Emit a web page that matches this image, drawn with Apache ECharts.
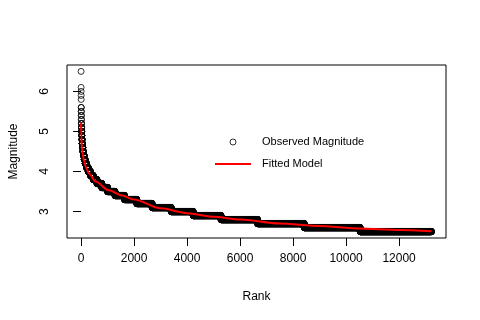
<!DOCTYPE html>
<html>
<head>
<meta charset="utf-8">
<script src="https://cdn.jsdelivr.net/npm/echarts@6/dist/echarts.min.js"></script>
<style>
  html, body { margin: 0; padding: 0; background: #fff; }
  #chart { width: 480px; height: 320px; }
</style>
</head>
<body>
<div id="chart"></div>
<script>
// magnitude levels (descending) and the last rank that has that magnitude
const magnitudeLevels = [6.5, 6.1, 6.0, 5.9, 5.8, 5.6, 5.5, 5.4, 5.3, 5.2, 5.1, 5.0, 4.9, 4.8, 4.7, 4.6, 4.5, 4.4, 4.3, 4.2, 4.1, 4.0, 3.9, 3.8, 3.7, 3.6, 3.5, 3.4, 3.3, 3.2, 3.1, 3.0, 2.9, 2.8, 2.7, 2.6, 2.5];
const lastRankAtLevel = [1, 2, 3, 4, 5, 7, 9, 11, 13, 16, 20, 25, 31, 40, 52, 68, 90, 118, 155, 205, 270, 355, 460, 600, 780, 1000, 1280, 1640, 2100, 2680, 3400, 4230, 5280, 6660, 8420, 10530, 13220];

// fitted model
const fitRanks = [1, 10, 30, 60, 100, 175, 300, 550, 1050, 1550, 2000, 3000, 4000, 5000, 6000, 7500, 9000, 10500, 12000, 13220];
const fitMagnitudes = [5.22, 4.85, 4.62, 4.45, 4.30, 4.12, 3.95, 3.75, 3.53, 3.40, 3.30, 3.08, 2.96, 2.87, 2.80, 2.70, 2.64, 2.58, 2.54, 2.51];

const xTicks = [0, 2000, 4000, 6000, 8000, 10000, 12000];
const yTicks = [3, 4, 5, 6];

const FONT = '"Liberation Sans", Arial, Helvetica, sans-serif';

function buildObserved() {
    const pts = [];
    let prev = 0;
    magnitudeLevels.forEach((m, i) => {
        for (let r = prev + 1; r <= lastRankAtLevel[i]; r++) pts.push([r, m]);
        prev = lastRankAtLevel[i];
    });
    return pts;
}

const chart = echarts.init(document.getElementById('chart'), null, { renderer: 'canvas' });

const option = {
    animation: false,
    textStyle: { fontFamily: FONT, color: '#000' },
    grid: {
        left: 66, right: 34, top: 65, bottom: 82,
        show: true, borderColor: '#000', borderWidth: 1, backgroundColor: 'transparent'
    },
    legend: {
        orient: 'vertical',
        left: 209, top: 130,
        itemWidth: 36, itemHeight: 6, itemGap: 8,
        selectedMode: false,
        textStyle: { fontFamily: FONT, fontSize: 11, color: '#000', lineHeight: 14, padding: [0, 0, 0, 6] },
        data: [
            { name: 'Observed Magnitude', icon: 'circle', itemStyle: { color: '#fff', borderColor: '#000', borderWidth: 1 } },
            { name: 'Fitted Model', itemStyle: { opacity: 0 }, lineStyle: { color: '#ff0000', width: 2 } }
        ]
    },
    xAxis: {
        type: 'value',
        min: -530, max: 13770,
        name: 'Rank', nameLocation: 'middle', nameGap: 53,
        nameTextStyle: { fontSize: 12, color: '#000', fontFamily: FONT },
        axisLine: { show: false },
        splitLine: { show: false },
        axisTick: { show: true, inside: false, length: 8, lineStyle: { color: '#000' }, customValues: xTicks },
        axisLabel: {
            fontSize: 12, color: '#000', margin: 15, fontFamily: FONT, customValues: xTicks,
            formatter: v => String(v)
        }
    },
    yAxis: {
        type: 'value',
        min: 2.34, max: 6.66,
        name: 'Magnitude', nameLocation: 'middle', nameGap: 47,
        nameTextStyle: { fontSize: 12, color: '#000', fontFamily: FONT },
        axisLine: { show: false },
        splitLine: { show: false },
        axisTick: { show: true, inside: false, length: 8, lineStyle: { color: '#000' }, customValues: yTicks },
        axisLabel: { fontSize: 12, color: '#000', margin: 16, rotate: 90, fontFamily: FONT, customValues: yTicks }
    },
    series: [
        {
            name: 'Observed Magnitude',
            type: 'scatter',
            symbol: 'circle',
            symbolSize: 6,
            progressive: 0,
            itemStyle: { color: 'rgba(0,0,0,0)', borderColor: '#000', borderWidth: 1 },
            data: buildObserved(),
            z: 2
        },
        {
            name: 'Fitted Model',
            type: 'line',
            symbol: 'none',
            smooth: 0.3,
            smoothMonotone: 'x',
            lineStyle: { color: '#ff0000', width: 2 },
            itemStyle: { color: '#ff0000' },
            data: fitRanks.map((r, i) => [r, fitMagnitudes[i]]),
            z: 3
        }
    ]
};

chart.setOption(option);
</script>
</body>
</html>
